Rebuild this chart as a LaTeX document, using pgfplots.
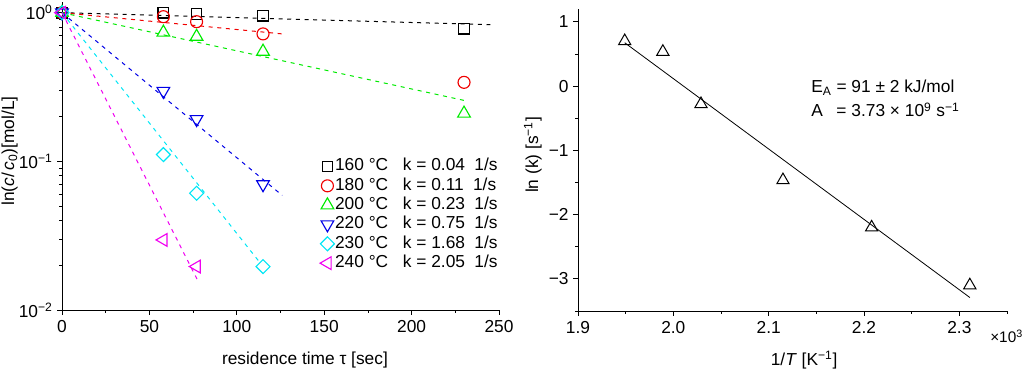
\documentclass[border=0pt]{standalone}
\usepackage{fontspec}
\setmainfont{Liberation Sans}
\usepackage{pgfplots}
\pgfplotsset{compat=1.18}
\definecolor{cgreen}{RGB}{0,235,0}
\definecolor{ccyan}{RGB}{0,230,245}
\definecolor{cmag}{RGB}{240,0,240}
\definecolor{cred}{RGB}{240,0,0}
\definecolor{cblue}{RGB}{0,0,230}
\begin{document}
\begin{tikzpicture}[font=\fontsize{13}{15}\selectfont]
\path[use as bounding box] (0,0) rectangle (768pt,279.75pt);
\pgfplotsset{
  common/.style={
    scale only axis, clip=false,
    axis x line*=bottom, axis y line*=left,
    axis line style={-, line width=0.6pt},
    tick align=outside,
    major tick length=3.5pt, minor tick length=2pt,
    every tick/.style={black, line width=0.6pt},
    tick label style={font=\fontsize{13}{15}\selectfont},
    label style={font=\fontsize{13}{15}\selectfont},
    /pgf/number format/assume math mode=true,
  },
  ln/.style={dash pattern=on 3pt off 3.5pt, line width=0.75pt, forget plot},
  mk/.style={only marks, line width=0.85pt, mark options={solid, fill=none}},
}
% ---------------- left ----------------
\begin{axis}[common,
  at={(46.5pt,47.25pt)}, anchor=south west,
  width=327.75pt, height=231pt,
  xmin=0, xmax=250, ymode=log, ymin=0.01, ymax=1.18,
  xtick={0,50,100,150,200,250}, minor x tick num=1,
  ytick={0.01,0.1,1},
  minor ytick={0.02,0.03,0.04,0.05,0.06,0.07,0.08,0.09,0.2,0.3,0.4,0.5,0.6,0.7,0.8,0.9},
  yticklabels={10\textsuperscript{−2},10\textsuperscript{−1},10\textsuperscript{0}},
  xticklabel style={yshift=-1pt},
  xlabel={residence time τ [sec]},
  ylabel={ln(\textit{c}/\,\textit{c}\textsubscript{0})[mol/L]},
  xlabel style={at={(axis description cs:0.556,-0.162)}, anchor=center},
  ylabel style={at={(axis description cs:-0.12,0.516)}, anchor=center},
  legend cell align=left,
  legend style={draw=none, fill=none, at={(0.59,0.496)}, anchor=north west,
    inner sep=0pt, row sep=1pt, font=\fontsize{13}{15}\selectfont,
    nodes={inner sep=0.5pt, text height=9.5pt, text depth=3pt}},
  legend image code/.code={\draw[mark repeat=2,mark phase=2,#1] plot coordinates {(0cm,0cm) (0.16cm,0cm) (0.34cm,0cm)};},
]
% fitted lines
\addplot[ln, black] coordinates {(0,1) (245,0.83)};
\addplot[ln, cred] coordinates {(0,1) (126,0.72)};
\addplot[ln, cgreen] coordinates {(0,1) (232,0.254)};
\addplot[ln, cblue] coordinates {(0,1) (126,0.059)};
\addplot[ln, ccyan] coordinates {(0,1) (113,0.021)};
\addplot[ln, cmag] coordinates {(0,1) (78,0.0155)};
% data
\addplot[mk, black, mark=square, mark size=4pt] coordinates {(0,1) (58,1.0) (77,0.98) (115,0.955) (230,0.78)};
\addlegendentry{160 °C\hspace{11pt}k = 0.04\hspace{7pt}1/s}
\addplot[mk, cred, mark=o, mark size=4.5pt] coordinates {(0,1) (58,0.94) (77,0.87) (115,0.72) (230,0.34)};
\addlegendentry{180 °C\hspace{11pt}k = 0.11\hspace{7pt}1/s}
\addplot[mk, cgreen, mark=triangle, mark size=5.5pt] coordinates {(0,1) (58,0.736) (77,0.69) (115,0.548) (230,0.21)};
\addlegendentry{200 °C\hspace{11pt}k = 0.23\hspace{7pt}1/s}
\addplot[mk, cblue, mark=triangle, mark size=5.5pt, mark options={rotate=180}] coordinates {(0,1) (58,0.297) (77,0.192) (115,0.070)};
\addlegendentry{220 °C\hspace{11pt}k = 0.75\hspace{7pt}1/s}
\addplot[mk, ccyan, mark=square, mark size=3.7pt, mark options={rotate=45}] coordinates {(0,1) (58,0.111) (77,0.061) (115,0.0196)};
\addlegendentry{230 °C\hspace{11pt}k = 1.68\hspace{7pt}1/s}
\addplot[mk, cmag, mark=triangle, mark size=5.5pt, mark options={rotate=90}] coordinates {(0,1) (58,0.0296) (77,0.0196)};
\addlegendentry{240 °C\hspace{11pt}k = 2.05\hspace{7pt}1/s}
\end{axis}
% ---------------- right ----------------
\begin{axis}[common,
  at={(433.5pt,46.5pt)}, anchor=south west,
  width=321.75pt, height=226.5pt,
  xmin=1.9, xmax=2.35, ymin=-3.5, ymax=1.2,
  xtick={1.9,2.0,2.1,2.2,2.3}, xticklabels={1.9,2.0,2.1,2.2,2.3},
  minor xtick={1.95,2.05,2.15,2.25,2.35},
  ytick={-3,-2,-1,0,1}, yticklabels={−3,−2,−1,0,1},
  minor ytick={-3.5,-2.5,-1.5,-0.5,0.5},
  xticklabel style={yshift=-1pt},
  xlabel={1/\textit{T} [K\textsuperscript{−1}]},
  ylabel={ln (k) [s\textsuperscript{−1}]},
  xlabel style={at={(axis description cs:0.527,-0.162)}, anchor=center},
  ylabel style={at={(axis description cs:-0.105,0.517)}, anchor=center},
]
\addplot[black, line width=0.6pt] coordinates {(1.949,0.675) (2.311,-3.29)};
\addplot[mk, black, mark=triangle, mark size=5.3pt, line width=0.75pt] coordinates {
(1.949,0.70) (1.989,0.534) (2.029,-0.28) (2.115,-1.464) (2.208,-2.20) (2.311,-3.10)};
\node[anchor=west, inner sep=0pt, font=\fontsize{13}{18}\selectfont] at (axis cs:2.1445,-0.218)
  {\begin{tabular}{@{}l@{ }l@{}}E\textsubscript{A} & = 91 ± 2 kJ/mol\\ A & = 3.73 × 10\textsuperscript{9} s\textsuperscript{−1}\end{tabular}};
\node[anchor=west, inner sep=0pt, font=\fontsize{11.5}{12}\selectfont] at ([xshift=-12.75pt,yshift=-19pt]rel axis cs:1,0) {×10\textsuperscript{3}};
\end{axis}
\end{tikzpicture}
\end{document}
